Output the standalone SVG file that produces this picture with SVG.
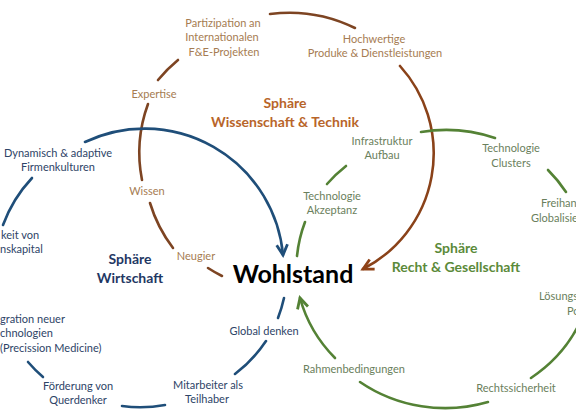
<svg xmlns="http://www.w3.org/2000/svg" width="576" height="420" viewBox="0 0 576 420">
<style>
text{font-family:Lato,"Liberation Sans",sans-serif;font-size:11px}
.m{text-anchor:middle}
.lb{fill:#A67C52}
.lu{fill:#2E4467}
.lg{fill:#6A805C}
.tb{fill:#B8652A;font-weight:bold;font-size:14px}
.tu{fill:#1F3864;font-weight:bold;font-size:14px}
.tg{fill:#5B8A3A;font-weight:bold;font-size:14px}
.c{fill:none;stroke-width:2.6;stroke-linecap:round}
.cb{stroke:#7D4422}
.cu{stroke:#1F4E79}
.cg{stroke:#548235}
</style>
<defs>
<marker id="ab" viewBox="0 0 12 12" refX="10.5" refY="6" markerWidth="13" markerHeight="13" markerUnits="userSpaceOnUse" orient="auto" overflow="visible"><path d="M1,1 L10.5,6 L1,11" fill="none" stroke="#8F4216" stroke-width="2.6"/></marker>
<marker id="au" viewBox="0 0 12 12" refX="10.5" refY="6" markerWidth="13" markerHeight="13" markerUnits="userSpaceOnUse" orient="auto" overflow="visible"><path d="M1,1 L10.5,6 L1,11" fill="none" stroke="#1F4E79" stroke-width="2.6"/></marker>
<marker id="ag" viewBox="0 0 12 12" refX="10.5" refY="6" markerWidth="13" markerHeight="13" markerUnits="userSpaceOnUse" orient="auto" overflow="visible"><path d="M1,1 L10.5,6 L1,11" fill="none" stroke="#548235" stroke-width="2.6"/></marker>
</defs>
<rect width="576" height="420" fill="#fff"/>
<g id="connectors">
<path class="c cb" d="M158,80 A147,144 0 0 1 178,60"/>
<path class="c cb" d="M270,14 A147,144 0 0 1 355,28"/>
<path class="c cb" style="stroke:#8A4219" d="M400,66 A130,130 0 0 1 363,269" marker-end="url(#ab)"/>
<path class="c cb" d="M148,104 A147,144 0 0 0 142,180"/>
<path class="c cb" d="M150,203 A147,144 0 0 0 173,248"/>
<path class="c cb" d="M208,268 A147,144 0 0 0 222,276"/>
<path class="c cu" d="M85,142 A139,139 0 0 1 283,255" marker-end="url(#au)"/>
<path class="c cu" d="M32,178 A139,139 0 0 0 3,225"/>
<path class="c cu" d="M28,362 A139,139 0 0 0 43,377"/>
<path class="c cu" d="M122,406 A139,139 0 0 0 165,405"/>
<path class="c cu" d="M235,374 A139,139 0 0 0 266,341"/>
<path class="c cu" d="M278,318 A139,139 0 0 0 284,298"/>
<path class="c cg" d="M421,132 A146,139 0 0 1 495,138"/>
<path class="c cg" d="M548,170 A146,139 0 0 1 566,192"/>
<path class="c cg" d="M582,318 A146,139 0 0 1 531,378"/>
<path class="c cg" d="M488,402 A146,139 0 0 1 360,382"/>
<path class="c cg" d="M335,358 A146,139 0 0 1 300,298" marker-end="url(#ag)"/>
<path class="c cg" d="M346,166 A146,139 0 0 0 327,184"/>
<path class="c cg" d="M305,222 A146,139 0 0 0 297,256"/>
</g>
<g id="center"><text x="293" y="283" class="m" style="font-weight:bold;font-size:25px;fill:#000">Wohlstand</text></g>
<g id="sphere-wt"><text class="m tb" x="285" y="108">Sphäre</text><text class="m tb" x="285" y="127">Wissenschaft &amp; Technik</text></g>
<g id="sphere-w"><text class="m tu" x="130" y="264">Sphäre</text><text class="m tu" x="130" y="283">Wirtschaft</text></g>
<g id="sphere-rg"><text class="m tg" x="456" y="253">Sphäre</text><text class="m tg" x="456" y="272">Recht &amp; Gesellschaft</text></g>
<g id="n-partizipation"><text class="m lb" x="223" y="27">Partizipation an</text><text class="m lb" x="222" y="41">Internationalen</text><text class="m lb" x="224" y="56">F&amp;E-Projekten</text></g>
<g id="n-expertise"><text class="m lb" x="154" y="98">Expertise</text></g>
<g id="n-hochwertige"><text class="m lb" x="374" y="43">Hochwertige</text><text class="m lb" x="375" y="57">Produke &amp; Dienstleistungen</text></g>
<g id="n-wissen"><text class="m lb" x="147" y="195">Wissen</text></g>
<g id="n-neugier"><text class="m lb" x="196" y="260">Neugier</text></g>
<g id="n-dynamisch"><text class="m lu" x="58" y="157">Dynamisch &amp; adaptive</text><text class="m lu" x="58" y="171">Firmenkulturen</text></g>
<g id="n-keit"><text class="lu" x="1" y="239">keit von</text><text class="lu" x="0" y="253">nskapital</text></g>
<g id="n-integration"><text class="lu" x="0" y="323">gration neuer</text><text class="lu" x="0" y="337">chnologien</text><text class="lu" x="0" y="352">(Precission Medicine)</text></g>
<g id="n-foerderung"><text class="m lu" x="78" y="390">Förderung von</text><text class="m lu" x="78" y="404">Querdenker</text></g>
<g id="n-mitarbeiter"><text class="m lu" x="208" y="389">Mitarbeiter als</text><text class="m lu" x="207" y="403">Teilhaber</text></g>
<g id="n-global"><text class="m lu" x="264" y="335">Global denken</text></g>
<g id="n-infrastruktur"><text class="m lg" x="382" y="145">Infrastruktur</text><text class="m lg" x="382" y="159">Aufbau</text></g>
<g id="n-akzeptanz"><text class="m lg" x="332" y="200">Technologie</text><text class="m lg" x="332" y="214">Akzeptanz</text></g>
<g id="n-clusters"><text class="m lg" x="511" y="152">Technologie</text><text class="m lg" x="511" y="167">Clusters</text></g>
<g id="n-freihandel"><text class="lg" x="541" y="207">Freihan</text><text class="lg" x="531" y="222">Globalisie</text></g>
<g id="n-loesungs"><text class="lg" x="539" y="300">Lösungs</text><text class="lg" x="567" y="315">Po</text></g>
<g id="n-rahmen"><text class="m lg" x="354" y="373">Rahmenbedingungen</text></g>
<g id="n-rechts"><text class="m lg" x="516" y="392">Rechtssicherheit</text></g>
</svg>
